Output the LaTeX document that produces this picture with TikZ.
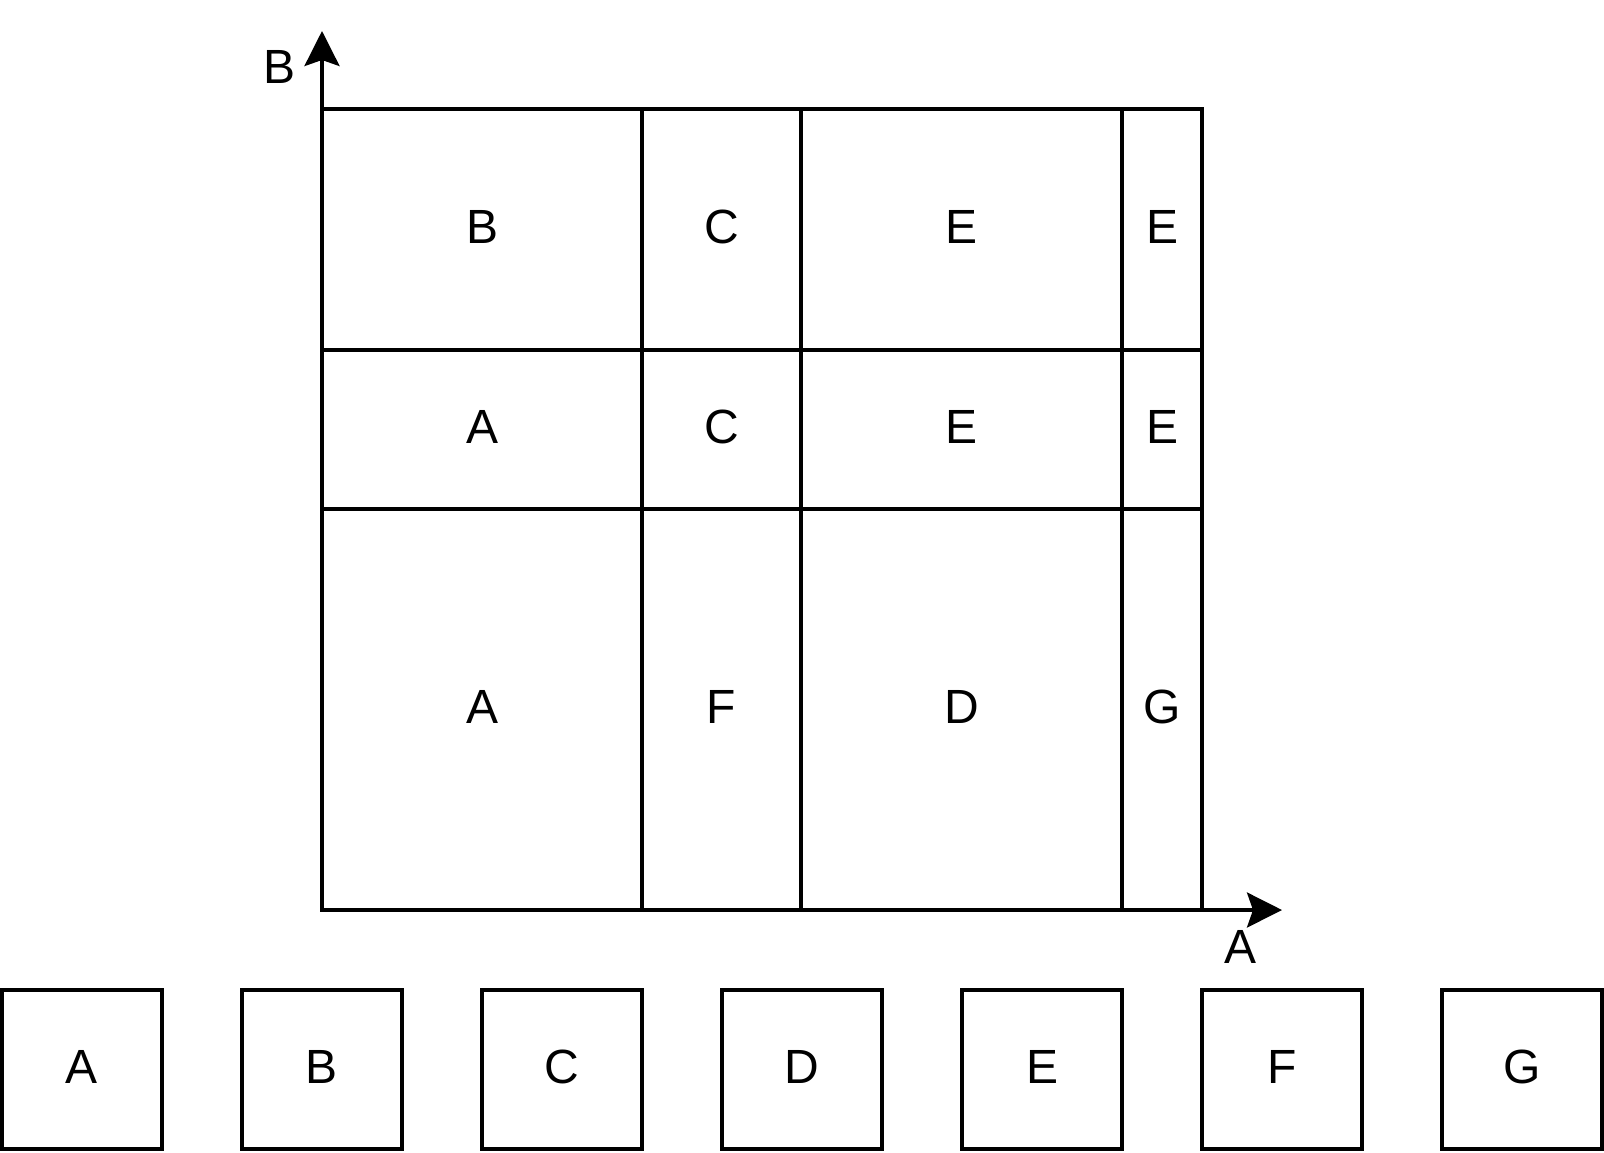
\documentclass[tikz,border=0pt]{standalone}
\usepackage{fontspec}
\setmainfont{Liberation Sans}
\usetikzlibrary{arrows.meta,positioning}
\tikzset{every picture/.style={font issue=\fontsize{24}{28}},
         font issue/.style={execute at begin picture={#1\selectfont}},
         cell/.style={draw, line width=1.75pt, inner sep=0pt, text height=17pt, text depth=3pt},
         first col/.style={minimum width=160pt},
         second col/.style={minimum width=79.5pt},
         third col/.style={minimum width=160.5pt},
         fourth col/.style={minimum width=40pt},
         top row/.style={minimum height=120.5pt},
         mid row/.style={minimum height=79.5pt},
         low row/.style={minimum height=200.5pt},
         legend/.style={cell, minimum width=80pt, minimum height=79.5pt},
         axis/.style={line width=1.75pt, -{Stealth[length=17.5pt,width=17.5pt,inset=3pt]}}
        }
\begin{document}
\begin{tikzpicture}[x=0.5pt,y=-0.5pt]
    \useasboundingbox (0,0) rectangle (1604,1152);

    % grid of cells
    \node[cell, first col, top row] (r1c1) at (482,229.5){B};
    \node[cell, second col, top row] (r1c2) at (721.5,229.5){C};
    \node[cell, third col, top row] (r1c3) at (961.5,229.5){E};
    \node[cell, fourth col, top row] (r1c4) at (1162,229.5){E};

    \node[cell, first col, mid row] (r2c1) at (482,429.5){A};
    \node[cell, second col, mid row] (r2c2) at (721.5,429.5){C};
    \node[cell, third col, mid row] (r2c3) at (961.5,429.5){E};
    \node[cell, fourth col, mid row] (r2c4) at (1162,429.5){E};

    \node[cell, first col, low row] (r3c1) at (482,709.5){A};
    \node[cell, second col, low row] (r3c2) at (721.5,709.5){F};
    \node[cell, third col, low row] (r3c3) at (961.5,709.5){D};
    \node[cell, fourth col, low row] (r3c4) at (1162,709.5){G};

    % axes
    \coordinate (origin) at (322,910);
    \coordinate (btip) at (322,31);
    \coordinate (atip) at (1282,910);
    \draw[axis] (origin) -- (btip);
    \draw[axis] (origin) -- (atip);
    \node at (280,67) (blabel){B};
    \node at (1240,947) (alabel){A};

    % legend
    \foreach \name [count=\i from 0] in {A,B,C,D,E,F,G}
        \node[legend] (leg\name) at (82+240*\i,1069.5){\name};
\end{tikzpicture}
\end{document}
